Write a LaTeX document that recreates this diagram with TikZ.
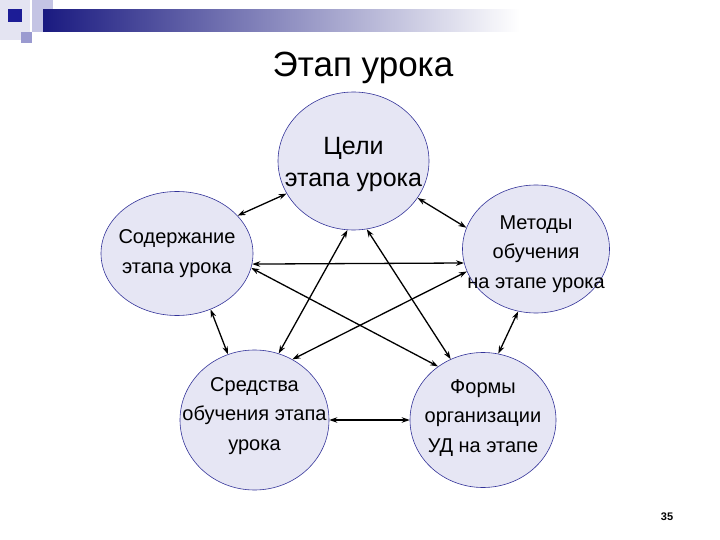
\documentclass[tikz,border=0pt]{standalone}
\usepackage{fontspec}
\setmainfont{Liberation Sans}
\usetikzlibrary{shapes.geometric,arrows.meta}
\definecolor{circfill}{HTML}{E6E6F4}
\definecolor{circline}{HTML}{333399}
\definecolor{navy}{HTML}{1A1A80}
\definecolor{palesq}{HTML}{E4E4F2}
\definecolor{midsq}{HTML}{C4C4E4}
\definecolor{darksq}{HTML}{1C1C96}
\definecolor{lavsq}{HTML}{9A9AD0}
\begin{document}
\begin{tikzpicture}[x=1pt,y=-1pt,
  circ/.style={ellipse,draw=circline,line width=0.6pt,fill=circfill,inner sep=0pt},
  txt/.style={align=center,font=\fontsize{20}{29.5}\selectfont,inner sep=0pt},
  link/.style={<->,>={Stealth[length=8pt,width=5.5pt]},line width=1.3pt,black}]
\useasboundingbox (0,0) rectangle (720,540);
% banner decoration
\fill[palesq] (0,0) rectangle (30,40);
\fill[midsq] (32,0) rectangle (53,32);
\shade[left color=navy,right color=white] (43,10) rectangle (520,32);
\fill[darksq] (8,9) rectangle (22,22);
\fill[lavsq] (21,32) rectangle (32,43);
% title
\node[font=\fontsize{35}{40}\selectfont] (title) at (363,68) {Этап урока};
% circles
\node[circ,minimum width=151pt,minimum height=138pt,
  label={[txt,yshift=-3pt,font=\fontsize{25}{32}\selectfont]center:Цели\\этапа урока}] (T) at (353.5,161) {};
\node[circ,minimum width=152pt,minimum height=124pt,
  label={[txt]center:Содержание\\этапа урока}] (L) at (177,253.5) {};
\node[circ,minimum width=147pt,minimum height=128pt,
  label={[txt,yshift=-5pt]center:Методы\\обучения\\на этапе урока}] (R) at (536,249) {};
\node[circ,minimum width=149pt,minimum height=140pt,
  label={[txt,yshift=4pt]center:Средства\\обучения этапа\\урока}] (S) at (254.5,420) {};
\node[circ,minimum width=146pt,minimum height=135pt,
  label={[txt,yshift=2pt]center:Формы\\организации\\УД на этапе}] (F) at (483,420) {};
% connectors
\draw[link] (T.206) -- (L.32);
\draw[link] (T.330) -- (R.163);
\draw[link] (L.352) -- (R.191);
\draw[link] (L.349) -- (F.130);
\draw[link] (T.265) -- (S.70);
\draw[link] (T.281) -- (F.118);
\draw[link] (R.198) -- (S.58);
\draw[link] (L.301) -- (S.112);
\draw[link] (R.254) -- (F.77);
\draw[link] (S.0) -- (F.180);
% page number
\node[font=\bfseries\fontsize{11}{13}\selectfont] (pg) at (667,517) {35};
\end{tikzpicture}
\end{document}
